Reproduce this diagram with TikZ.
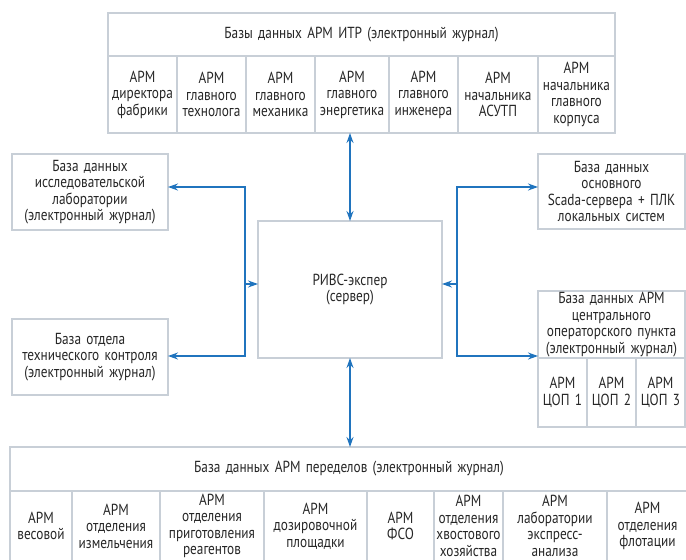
\documentclass[tikz,border=0pt]{standalone}
\usepackage{fontspec}
\setmainfont{PT Sans}[FakeStretch=0.83, WordSpace=1.5]
\usepackage{tikz}
\usetikzlibrary{arrows.meta}
\definecolor{ramka}{RGB}{200,207,215}
\definecolor{sinij}{RGB}{32,116,190}
\tikzstyle{baza} = [rectangle, draw=ramka, line width=2pt, outer sep=0pt, inner sep=0pt, anchor=north west, align=center, text=black!85, font=\fontsize{16}{16.5}\selectfont]
\tikzstyle{strelka} = [draw=sinij, line width=1.5pt, -{Stealth[length=10pt,width=7pt]}]
\tikzstyle{dvustrelka} = [draw=sinij, line width=1.5pt, {Stealth[length=10pt,width=7pt]}-{Stealth[length=10pt,width=7pt]}]

\begin{document}
\begin{tikzpicture}[x=1pt, y=-1pt]
    \useasboundingbox (0,0) rectangle (686,560);
    \clip (0,0) rectangle (686,560);

    % АРМ ИТР
    \node (itr) [baza, minimum width=507pt, minimum height=43pt] at (108,13) {Базы данных АРМ ИТР (электронный журнал)};
    \node (itr1) [baza, minimum width=69pt, minimum height=77pt] at (itr.south west) {АРМ\\директора\\фабрики};
    \node (itr2) [baza, minimum width=69pt, minimum height=77pt] at (itr1.north east) {АРМ\\главного\\технолога};
    \node (itr3) [baza, minimum width=69pt, minimum height=77pt] at (itr2.north east) {АРМ\\главного\\механика};
    \node (itr4) [baza, minimum width=74pt, minimum height=77pt] at (itr3.north east) {АРМ\\главного\\энергетика};
    \node (itr5) [baza, minimum width=69pt, minimum height=77pt] at (itr4.north east) {АРМ\\главного\\инженера};
    \node (itr6) [baza, minimum width=80pt, minimum height=77pt] at (itr5.north east) {АРМ\\начальника\\АСУТП};
    \node (itr7) [baza, minimum width=77pt, minimum height=77pt] at (itr6.north east) {АРМ\\начальника\\главного\\корпуса};

    \node (lab) [baza, minimum width=156pt, minimum height=76pt] at (12,154) {База данных\\исследовательской\\лаборатории\\(электронный журнал)};
    \node (otk) [baza, minimum width=156pt, minimum height=76pt] at (12,319) {База отдела\\технического контроля\\(электронный журнал)};
    \node (server) [baza, minimum width=184pt, minimum height=137pt] at (258,221) {РИВС-экспер\\(сервер)};
    \node (scada) [baza, minimum width=147pt, minimum height=75pt] at (538,154) {База данных\\основного\\Scada-сервера + ПЛК\\локальных систем};

    % ЦОП
    \node (cop) [baza, minimum width=147pt, minimum height=67pt] at (538,291) {База данных АРМ\\центрального\\операторского пункта\\(электронный журнал)};
    \node (cop1) [baza, minimum width=49pt, minimum height=69pt] at (cop.south west) {АРМ\\ЦОП 1};
    \node (cop2) [baza, minimum width=49pt, minimum height=69pt] at (cop1.north east) {АРМ\\ЦОП 2};
    \node (cop3) [baza, minimum width=49pt, minimum height=69pt] at (cop2.north east) {АРМ\\ЦОП 3};

    % переделы
    \node (per) [baza, minimum width=678pt, minimum height=44pt] at (10,447) {База данных АРМ переделов (электронный журнал)};
    \node (per1) [baza, minimum width=62pt, minimum height=70pt] at (per.south west) {АРМ\\весовой};
    \node (per2) [baza, minimum width=88pt, minimum height=70pt] at (per1.north east) {АРМ\\отделения\\измельчения};
    \node (per3) [baza, minimum width=104pt, minimum height=70pt] at (per2.north east) {АРМ\\отделения\\приготовления\\реагентов};
    \node (per4) [baza, minimum width=103pt, minimum height=70pt] at (per3.north east) {АРМ\\дозировочной\\площадки};
    \node (per5) [baza, minimum width=67pt, minimum height=70pt] at (per4.north east) {АРМ\\ФСО};
    \node (per6) [baza, minimum width=69pt, minimum height=70pt] at (per5.north east) {АРМ\\отделения\\хвостового\\хозяйства};
    \node (per7) [baza, minimum width=104pt, minimum height=70pt] at (per6.north east) {АРМ\\лаборатории\\экспресс-\\анализа};
    \node (per8) [baza, minimum width=81pt, minimum height=70pt] at (per7.north east) {АРМ\\отделения\\флотации};

    \coordinate (lshina) at (245,284);
    \coordinate (pshina) at (457,284);

    \draw [dvustrelka] (server.north) -- (server.north |- itr4.south);
    \draw [dvustrelka] (server.south) -- (server.south |- per.north);
    \draw [strelka] (lshina) -- (lshina -| server.west);
    \draw [strelka] (lshina) |- ([yshift=5pt]lab.east);
    \draw [strelka] (lshina) |- ([yshift=1pt]otk.east);
    \draw [strelka] (pshina) -- (pshina -| server.east);
    \draw [strelka] (pshina) |- ([yshift=4.5pt]scada.west);
    \draw [strelka] (pshina) |- ([yshift=2pt]cop.south west);
\end{tikzpicture}
\end{document}
